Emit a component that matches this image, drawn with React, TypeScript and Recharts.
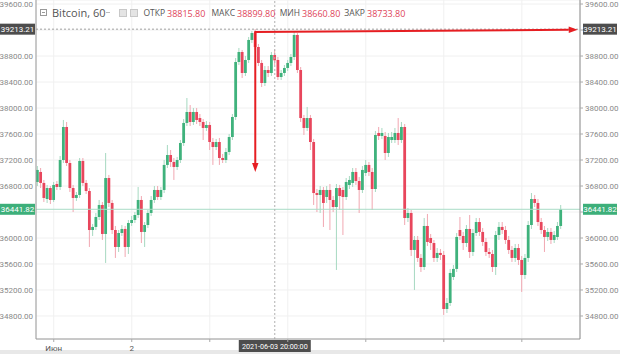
import React from "react";
import { ComposedChart, Bar, XAxis, YAxis, CartesianGrid, ReferenceLine } from "recharts";

// hourly candles, 31 May 19:00 .. 7 Jun 10:00
const OPEN = [
  36862, 37016, 36847, 36600, 36769, 36585, 36831, 36785, 37200, 37708,
  37154, 36769, 36616, 36662, 37185, 36847, 36723, 36123, 36170, 36323,
  36508, 36062, 36923, 36539, 36123, 35862, 36077, 36139, 35862, 36231,
  36277, 36354, 36585, 36093, 36200, 36385, 36585, 36739, 36631, 36739,
  37124, 37277, 37170, 37093, 37200, 37462, 37770, 37939, 37785, 37939,
  37846, 37785, 37693, 37739, 37477, 37400, 37477, 37231, 37200, 37323,
  37554, 37862, 38708, 38862, 38539, 38739, 39047, 39154, 38939, 38693,
  38385, 38585, 38539, 38815.8, 38739, 38477, 38539, 38616, 38693, 38785,
  39124, 38585, 37846, 37693, 37846, 37477, 36692, 36662, 36739, 36631,
  36739, 36585, 36477, 36769, 36739, 36631, 36816, 36847, 37016, 36877,
  36739, 37000, 37124, 37016, 36754, 37616, 37570, 37570, 37308, 37508,
  37508, 37616, 37508, 37708, 36308, 36385, 35816, 35970, 35693, 35554,
  36185, 36000, 35923, 35693, 35770, 35739, 34908, 35000, 35400, 35524,
  36123, 36031, 35923, 36139, 35785, 36077, 36246, 36093, 35939, 35785,
  35754, 35554, 36046, 36170, 36123, 35970, 35816, 35693, 35846, 35662,
  35431, 35693, 36200, 36600, 36539, 36246, 36123, 36016, 36093, 35970,
  36016, 36185,
];
const HIGH = [
  37108, 37077, 36893, 36816, 36800, 36862, 36877, 37262, 37816, 37785,
  37200, 36816, 36708, 37231, 37231, 36893, 36769, 36216, 36385, 36585,
  36554, 37308, 36970, 36585, 36185, 36123, 36200, 36185, 36277, 36339,
  36400, 36785, 36646, 36246, 36431, 36646, 36800, 36800, 36785, 37200,
  37431, 37354, 37231, 37247, 37508, 37831, 38154, 38046, 38000, 38000,
  37908, 37831, 37800, 37785, 37539, 37524, 37539, 37293, 37385, 37600,
  37908, 38770, 38924, 38893, 38800, 39093, 39185, 39213.21, 38985, 38739,
  38646, 38646, 38862, 38899.8, 38785, 38585, 38662, 38739, 38831, 39170,
  39154, 38631, 37893, 38016, 37893, 37524, 36754, 36800, 36785, 36800,
  36831, 36646, 36831, 36816, 36785, 36923, 36954, 37077, 37077, 36939,
  37108, 37200, 37170, 37077, 37647, 37708, 37693, 37631, 37616, 37631,
  37693, 37846, 37785, 37754, 36462, 36431, 36031, 36031, 35754, 36308,
  36370, 36062, 35970, 35846, 35831, 35800, 35077, 35524, 35585, 36077,
  36323, 36093, 36200, 36354, 36139, 36308, 36308, 36154, 36000, 35846,
  35816, 36108, 36246, 36246, 36185, 36031, 35877, 35908, 35908, 35723,
  35754, 36262, 36692, 36662, 36600, 36308, 36185, 36154, 36154, 36108,
  36246, 36508,
];
const LOW = [
  36800, 36769, 36554, 36539, 36523, 36554, 36739, 36739, 37154, 37108,
  36708, 36400, 36570, 36616, 36800, 36677, 35862, 36031, 36123, 36277,
  35970, 35616, 36477, 36062, 35693, 35785, 36031, 35708, 35754, 36185,
  36231, 36308, 35923, 35862, 36154, 36339, 36539, 36585, 36585, 36692,
  37077, 37093, 36893, 37047, 37154, 37416, 37723, 37723, 37739, 37754,
  37723, 37508, 37647, 37354, 37124, 37354, 37124, 37154, 37154, 37277,
  37508, 37816, 38662, 38462, 38493, 38693, 39000, 38893, 38646, 38323,
  38339, 38477, 38493, 38660.8, 38431, 38431, 38493, 38570, 38646, 38739,
  38539, 37785, 37585, 37647, 37354, 36508, 36400, 36385, 36170, 36539,
  36123, 36400, 35508, 36431, 36046, 36585, 36754, 36785, 36816, 36385,
  36692, 36954, 36954, 36431, 36708, 37508, 37524, 37200, 37247, 37462,
  37462, 37431, 37462, 36200, 36246, 35723, 35200, 35631, 35477, 35508,
  35877, 35816, 35631, 35631, 35662, 34816, 34846, 34954, 35354, 35477,
  35970, 35816, 35862, 35693, 35723, 36031, 36031, 35877, 35723, 35693,
  35477, 35431, 35970, 36062, 35908, 35754, 35631, 35631, 35585, 35170,
  35370, 35631, 36139, 36477, 36185, 36062, 35785, 35954, 35908, 35923,
  35970, 36139,
];
const CLOSE = [
  37047, 36847, 36616, 36769, 36585, 36816, 36785, 37200, 37708, 37154,
  36769, 36616, 36662, 37185, 36847, 36723, 36123, 36170, 36323, 36508,
  36062, 36923, 36539, 36123, 35862, 36077, 36139, 35862, 36231, 36277,
  36354, 36585, 36093, 36200, 36385, 36585, 36739, 36631, 36739, 37124,
  37277, 37170, 37093, 37200, 37462, 37770, 37939, 37785, 37939, 37816,
  37785, 37693, 37739, 37477, 37400, 37477, 37231, 37200, 37323, 37554,
  37862, 38708, 38862, 38539, 38739, 39047, 39154, 38939, 38693, 38385,
  38585, 38539, 38816, 38733.8, 38477, 38539, 38616, 38693, 38785, 39124,
  38585, 37846, 37693, 37846, 37477, 36692, 36662, 36739, 36539, 36739,
  36585, 36477, 36769, 36646, 36631, 36862, 36893, 37016, 36877, 36739,
  37047, 37124, 37016, 36754, 37585, 37570, 37616, 37308, 37554, 37554,
  37616, 37508, 37708, 36308, 36385, 35816, 35970, 35693, 35554, 36185,
  35939, 35923, 35693, 35770, 35739, 34908, 35000, 35462, 35524, 36016,
  36031, 35923, 36139, 35785, 36077, 36246, 36093, 35939, 35785, 35754,
  35554, 36046, 36170, 36123, 35970, 35816, 35693, 35846, 35662, 35431,
  35693, 36200, 36600, 36539, 36246, 36123, 36016, 36093, 35970, 36046,
  36185, 36441.82,
];

const DAY_TICKS = [5, 29, 53, 77, 101, 125, 149];
const DAY_LABELS = ["Июн", "2", "", "", "", "", ""];
const PRICE_TICKS = [34800, 35200, 35600, 36000, 36400, 36800, 37200, 37600, 38000, 38400, 38800, 39200, 39600];
const HIDDEN_TICKS = [36400, 39200];

const LAST_PRICE = 36441.82;
const CROSS_PRICE = 39213.21;
const CROSS_INDEX = 73;
const CROSS_LABEL = "2021-06-03 20:00:00";

const PEAK_INDEX = 67;
const PEAK_LINE_PRICE = 39170;
const ARROW_DOWN_PRICE = 37016;
const ARROW_RIGHT_INDEX = 166.2;
const ARROW_RIGHT_PRICE = 39205;

const OHLC_HEADER = [
  { label: "ОТКР", value: "38815.80", vx: 167 },
  { label: "МАКС", value: "38899.80", vx: 237 },
  { label: "МИН", value: "38660.80", vx: 302 },
  { label: "ЗАКР", value: "38733.80", vx: 367 },
];

const UP = "#3fb27c";
const DOWN = "#e8465c";
const WICK_UP = "#a6d9c1";
const WICK_DOWN = "#f1a7b1";
const RED = "#e61e22";
const Y_DOMAIN = [34446, 39662];
const X_DOMAIN = [-0.46, 166.9];

const rows = OPEN.map((o, i) => ({
  i,
  o,
  h: HIGH[i],
  l: LOW[i],
  c: CLOSE[i],
  range: [LOW[i], HIGH[i]],
}));

function Candle(props: any) {
  const { x, y, width, height, payload } = props;
  if (!payload || height == null) return null;
  const { o, h, l, c } = payload;
  const top = Math.min(y, y + height);
  const span = Math.abs(height);
  const ppu = span / (h - l || 1);
  const up = c >= o;
  const bodyTop = top + (h - Math.max(o, c)) * ppu;
  const bodyH = Math.max(1, Math.abs(c - o) * ppu);
  const cx = x + width / 2;
  return (
    <g>
      <line x1={cx} x2={cx} y1={top} y2={top + span} stroke={up ? WICK_UP : WICK_DOWN} strokeWidth={1} />
      <rect x={cx - 1.4} y={bodyTop} width={2.8} height={bodyH} fill={up ? UP : DOWN} />
    </g>
  );
}

function PriceTick(props: any) {
  const { x, y, payload, textAnchor } = props;
  if (HIDDEN_TICKS.includes(payload.value)) return null;
  return (
    <text x={x} y={y} dy={3} textAnchor={textAnchor} fontSize={8} fill="#8a8a8a">
      {payload.value.toFixed(2)}
    </text>
  );
}

function DayTick(props: any) {
  const { x, y, payload } = props;
  const label = DAY_LABELS[DAY_TICKS.indexOf(payload.value)];
  return (
    <text x={x} y={y} dy={7} textAnchor="middle" fontSize={8} fill="#555">
      {label}
    </text>
  );
}

function priceBoxes(text: string, fill: string) {
  return (props: any) => {
    const vb = props.viewBox;
    if (!vb) return null;
    const yy = vb.y;
    const rightX = vb.x + vb.width + 3;
    return (
      <g>
        <rect x={vb.x - 36} y={yy - 5.5} width={35} height={11} fill={fill} />
        <text x={vb.x - 18.5} y={yy} dy={3} textAnchor="middle" fontSize={8} fill="#fff">{text}</text>
        <rect x={rightX} y={yy - 5.5} width={34} height={11} fill={fill} />
        <text x={rightX + 17} y={yy} dy={3} textAnchor="middle" fontSize={8} fill="#fff">{text}</text>
      </g>
    );
  };
}

function dateBox(props: any) {
  const vb = props.viewBox;
  if (!vb) return null;
  const bottom = vb.y + vb.height;
  return (
    <g>
      <rect x={vb.x - 36} y={bottom + 1} width={72} height={12} fill="#4d4d4d" />
      <text x={vb.x} y={bottom + 7} dy={2.6} textAnchor="middle" fontSize={7.2} fill="#fff">{CROSS_LABEL}</text>
    </g>
  );
}

function ArrowLine(props: any) {
  const { x1, y1, x2, y2 } = props;
  if ([x1, y1, x2, y2].some((v) => v == null)) return null;
  const ang = Math.atan2(y2 - y1, x2 - x1);
  const len = 9;
  const half = 3.2;
  const bx = x2 - Math.cos(ang) * len;
  const by = y2 - Math.sin(ang) * len;
  const px = -Math.sin(ang) * half;
  const py = Math.cos(ang) * half;
  return (
    <g>
      <line x1={x1} y1={y1} x2={bx} y2={by} stroke={RED} strokeWidth={2} />
      <polygon points={`${x2},${y2} ${bx + px},${by + py} ${bx - px},${by - py}`} fill={RED} />
    </g>
  );
}

export default function App() {
  return (
    <div
      style={{
        position: "absolute",
        left: 0,
        top: 0,
        width: 620,
        height: 354,
        background: "#fff",
        overflow: "hidden",
        fontFamily: "Roboto, sans-serif",
      }}
    >
      <div style={{ position: "absolute", left: 0, top: 350, width: 620, height: 4, background: "#e8e8e8" }} />
      <ComposedChart
        width={620}
        height={354}
        data={rows}
        margin={{ top: 0, right: 0, bottom: 0, left: 0 }}
        style={{ position: "absolute", left: 0, top: 0 }}
      >
        <CartesianGrid stroke="#f0f0f0" yAxisId="left" />
        <XAxis
          dataKey="i"
          type="number"
          domain={X_DOMAIN}
          allowDataOverflow
          ticks={DAY_TICKS}
          interval={0}
          height={15}
          tickSize={3}
          tickMargin={2}
          tick={<DayTick />}
          axisLine={{ stroke: "#9a9a9a" }}
          tickLine={{ stroke: "#aaa" }}
        />
        <YAxis
          yAxisId="left"
          orientation="left"
          width={36}
          domain={Y_DOMAIN}
          allowDataOverflow
          ticks={PRICE_TICKS}
          interval={0}
          tickSize={0}
          tickMargin={3}
          tick={<PriceTick />}
          axisLine={{ stroke: "#9a9a9a" }}
          tickLine={false}
        />
        <YAxis
          yAxisId="right"
          orientation="right"
          width={40}
          domain={Y_DOMAIN}
          allowDataOverflow
          ticks={PRICE_TICKS}
          interval={0}
          tickSize={3}
          tickMargin={2}
          tick={<PriceTick />}
          axisLine={{ stroke: "#8c8c8c" }}
          tickLine={{ stroke: "#aaa" }}
        />
        <ReferenceLine yAxisId="left" y={LAST_PRICE} stroke="#a9dcc6" label={priceBoxes("36441.82", "#3daf7a")} />
        <Bar dataKey="range" yAxisId="left" barSize={3} isAnimationActive={false} shape={<Candle />} />
        <ReferenceLine
          yAxisId="left"
          x={CROSS_INDEX}
          stroke="#b0b0b0"
          strokeDasharray="2 2"
          label={dateBox}
        />
        <ReferenceLine
          yAxisId="left"
          y={CROSS_PRICE}
          stroke="#a0a0a0"
          strokeDasharray="2 2"
          label={priceBoxes("39213.21", "#4d4d4d")}
        />
        <ReferenceLine
          yAxisId="left"
          segment={[
            { x: PEAK_INDEX, y: PEAK_LINE_PRICE },
            { x: PEAK_INDEX, y: ARROW_DOWN_PRICE },
          ]}
          ifOverflow="visible"
          shape={ArrowLine}
        />
        <ReferenceLine
          yAxisId="left"
          segment={[
            { x: PEAK_INDEX - 0.3, y: PEAK_LINE_PRICE },
            { x: ARROW_RIGHT_INDEX, y: ARROW_RIGHT_PRICE },
          ]}
          ifOverflow="visible"
          shape={ArrowLine}
        />
      </ComposedChart>
      <div style={{ position: "absolute", left: 40, top: 9, width: 7, height: 7, border: "1px solid #999", boxSizing: "border-box" }}>
        <div style={{ position: "absolute", left: 1, top: 2, width: 3, height: 1, background: "#999" }} />
      </div>
      <div style={{ position: "absolute", left: 52, top: 5, fontSize: 11, color: "#555", fontFamily: "'Open Sans', sans-serif", whiteSpace: "nowrap" }}>
        Bitcoin, 60
      </div>
      <div style={{ position: "absolute", left: 106, top: 12, width: 4, height: 1, background: "#bbb" }} />
      <div style={{ position: "absolute", left: 119, top: 9, width: 8, height: 8, background: "#e4e4e4", border: "1px solid #c8c8c8", boxSizing: "border-box" }} />
      <div style={{ position: "absolute", left: 130, top: 9, width: 8, height: 8, background: "#e4e4e4", border: "1px solid #c8c8c8", boxSizing: "border-box" }} />
      {OHLC_HEADER.map((f) => (
        <React.Fragment key={f.label}>
          <div
            style={{
              position: "absolute",
              right: 620 - (f.vx - 2),
              top: 7,
              fontSize: 8.5,
              color: "#555",
              fontFamily: "'Open Sans', sans-serif",
              whiteSpace: "nowrap",
            }}
          >
            {f.label}
          </div>
          <div style={{ position: "absolute", left: f.vx, top: 7, fontSize: 9, color: "#e0455a", fontFamily: "'Open Sans', sans-serif", whiteSpace: "nowrap" }}>
            {f.value}
          </div>
        </React.Fragment>
      ))}
    </div>
  );
}
